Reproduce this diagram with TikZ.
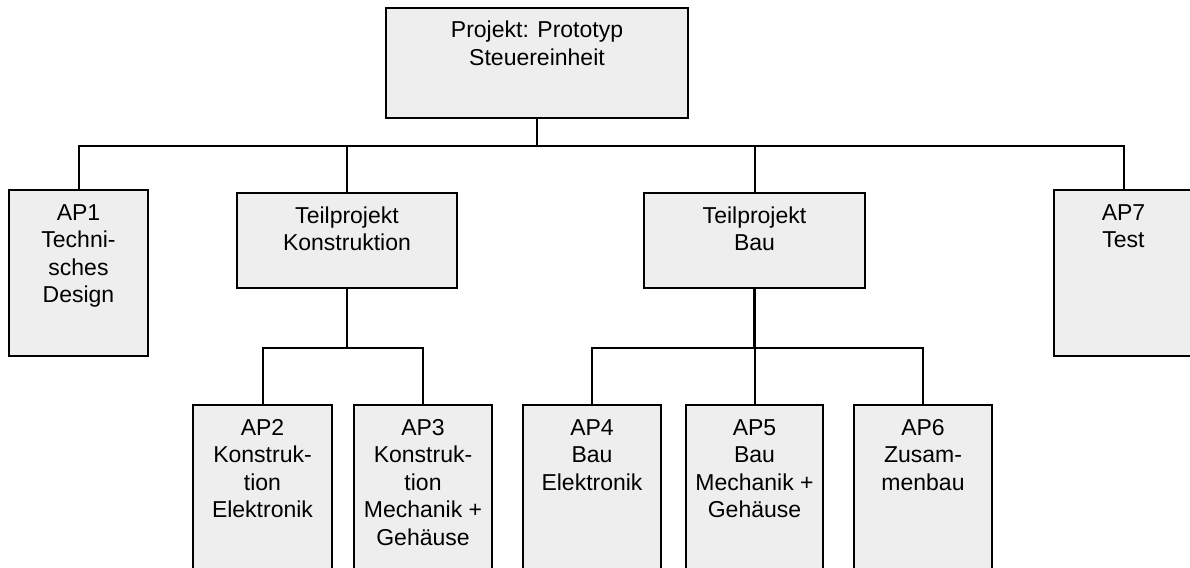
\documentclass[tikz,border=0pt]{standalone}
\usepackage{fontspec}
\setmainfont{Liberation Sans}
\definecolor{boxfill}{HTML}{EEEEEE}
\newcommand{\boxtext}[3]{\parbox[c][#2pt][t]{#1pt}{\centering\fontsize{23}{27.5}\selectfont\rule{0pt}{30pt}#3}}
\begin{document}
\begin{tikzpicture}[x=1pt,y=-1pt,
  wbox/.style={draw=black,line width=2pt,fill=boxfill,inner sep=0pt,outer sep=0pt},
  conn/.style={draw=black,line width=2pt},
  trunk/.style={draw=black,line width=2.6pt}]
\useasboundingbox (0,0) rectangle (1190,567);
\fill[white] (0,0) rectangle (1190,567);
% top
\node[wbox] (top) at (537,63) {\boxtext{302}{110}{Projekt: Prototyp\\Steuereinheit}};
% level 1
\node[wbox] (ap1) at (78.5,273) {\boxtext{139}{166}{AP1\\Techni-\\sches\\Design}};
\node[wbox] (tk) at (347,240.5) {\boxtext{220}{95}{Teilprojekt\\Konstruktion}};
\node[wbox] (tb) at (754.5,240.5) {\boxtext{221}{95}{Teilprojekt\\Bau}};
\node[wbox] (ap7) at (1123.5,273) {\boxtext{139}{166}{AP7\\Test}};
% level 2
\node[wbox] (ap2) at (262.5,505) {\boxtext{139}{200}{AP2\\Konstruk-\\tion\\Elektronik}};
\node[wbox] (ap3) at (423,505) {\boxtext{138}{200}{AP3\\Konstruk-\\tion\\Mechanik +\\Gehäuse}};
\node[wbox] (ap4) at (592,505) {\boxtext{138}{200}{AP4\\Bau\\Elektronik}};
\node[wbox] (ap5) at (754.5,505) {\boxtext{137}{200}{AP5\\Bau\\Mechanik +\\Gehäuse}};
\node[wbox] (ap6) at (923,505) {\boxtext{138}{200}{AP6\\Zusam-\\menbau}};
% connectors
\coordinate (bus) at (537,146);
\coordinate (busK) at (347,348);
\coordinate (busB) at (754.5,348);
\draw[trunk] (top.south) -- (bus);
\draw[conn] (ap1.north) |- (bus) -| (ap7.north);
\draw[conn] (tk.north) -- (tk.north |- bus);
\draw[conn] (tb.north) -- (tb.north |- bus);
\draw[trunk] (tk.south) -- (busK);
\draw[conn] (ap2.north) |- (busK) -| (ap3.north);
\draw[trunk] (tb.south) -- (busB);
\draw[conn] (busB) -- (ap5.north);
\draw[conn] (ap4.north) |- (busB) -| (ap6.north);
\end{tikzpicture}
\end{document}
